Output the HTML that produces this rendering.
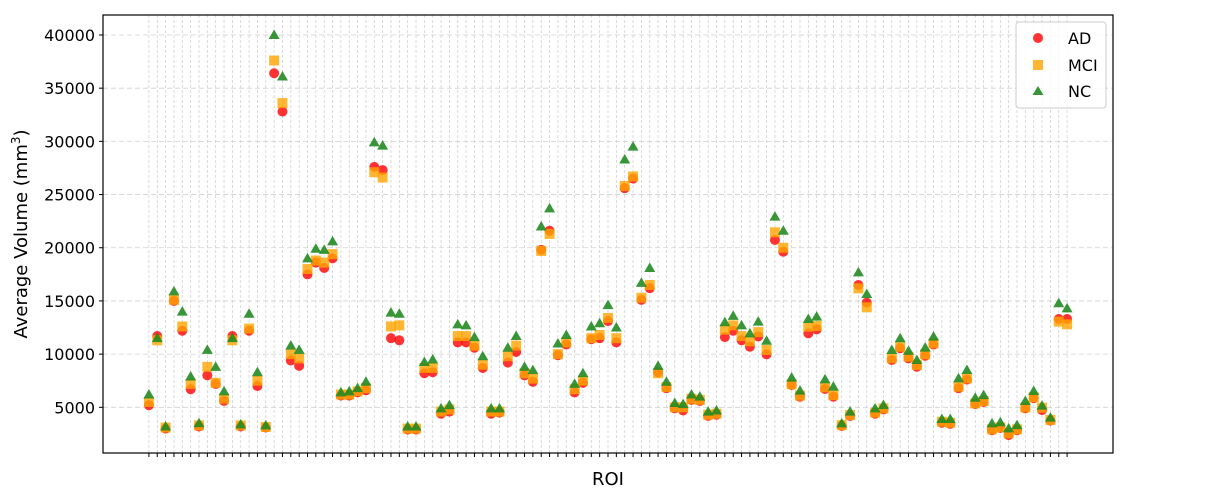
<!DOCTYPE html>
<html><head><meta charset="utf-8"><style>
html,body{margin:0;padding:0;background:#fff;}
svg{display:block;font-family:"DejaVu Sans","Liberation Sans",sans-serif;}
</style></head><body>
<svg id="chart" width="1210" height="492" viewBox="0 0 1210 492" xmlns="http://www.w3.org/2000/svg">
<g id="grid"></g>
<g id="marks"></g>
<rect x="103" y="15" width="1010" height="438" fill="none" stroke="#000" stroke-width="1.2"/>
<g id="axes"></g>
<text transform="translate(27,234) rotate(-90)" text-anchor="middle" font-size="18">Average Volume (mm<tspan baseline-shift="super" font-size="12">3</tspan>)</text>
<text x="608" y="485" text-anchor="middle" font-size="18">ROI</text>
<g>
<rect x="1016" y="22" width="90" height="86" rx="3" fill="#fff" fill-opacity="0.85" stroke="#ccc"/>
<g><circle cx="1038" cy="38" r="5" fill="#ff0000" fill-opacity="0.8"/><text x="1068" y="44" font-size="16">AD</text></g>
<g><rect x="1033" y="60" width="10" height="10" fill="#ffa500" fill-opacity="0.8"/><text x="1068" y="71" font-size="16">MCI</text></g>
<g><polygon points="1038,86 1043.5,95 1032.5,95" fill="#228b22" fill-opacity="0.9"/><text x="1068" y="97" font-size="16">NC</text></g>
</g>
</svg>
<script>
const AD=[5200,11700,3000,15000,12200,6700,3200,8000,7200,5600,11700,3200,12200,7000,3100,36400,32800,9400,8900,17500,18600,18100,19000,6100,6100,6400,6600,27600,27300,11500,11300,2900,2900,8200,8300,4400,4600,11100,11100,10600,8700,4400,4500,9200,10200,8000,7400,19800,21600,9900,10900,6400,7300,11400,11500,13100,11100,25600,26500,15100,16200,8300,6800,4900,4700,5700,5600,4200,4300,11600,12200,11300,10700,11660,9980,20730,19630,7100,6000,11950,12330,6720,6000,3250,4200,16500,14840,4400,4800,9450,10550,9600,8820,9850,10900,3550,3450,6800,7600,5300,5500,2850,3050,2390,2850,4900,5850,4740,3750,13300,13300];
const MCI=[5500,11300,3100,15100,12600,7200,3300,8800,7300,5800,11300,3300,12400,7500,3150,37600,33600,10000,9600,18000,18800,18600,19400,6200,6200,6500,6800,27100,26600,12600,12700,3000,3000,8700,8700,4600,4800,11700,11700,10800,9000,4600,4600,9800,10800,8200,7700,19700,21300,10000,11100,6700,7500,11500,11800,13400,11500,25800,26700,15300,16500,8200,6900,5000,5000,5800,5700,4300,4400,12300,12700,11700,11200,12070,10390,21450,20000,7160,6100,12580,12640,6880,6150,3330,4280,16180,14400,4500,4900,9610,10700,9760,8980,9980,11020,3650,3550,6940,7720,5370,5590,2930,3120,2550,2930,4990,5940,4960,3810,13050,12800];
const NC=[6200,11500,3200,15900,14000,7900,3500,10400,8800,6500,11500,3400,13800,8300,3300,40000,36100,10800,10400,19000,19900,19800,20600,6400,6500,6800,7400,29900,29600,13900,13800,3200,3200,9260,9500,4900,5200,12800,12700,11600,9800,4900,4900,10600,11700,8800,8500,22000,23700,11000,11800,7200,8200,12600,12900,14600,12500,28300,29500,16700,18100,8900,7400,5400,5300,6200,6000,4600,4700,13000,13600,12700,11950,13050,11260,22920,21600,7790,6570,13300,13520,7630,6940,3490,4590,17690,15650,4900,5220,10390,11490,10300,9450,10610,11650,3900,3900,7720,8510,5900,6150,3490,3590,3020,3330,5590,6530,5160,4030,14780,14300];
const Y_TICKS=[5000,10000,15000,20000,25000,30000,35000,40000];
const Y_TICK_LABELS=["5000","10000","15000","20000","25000","30000","35000","40000"];

const NS="http://www.w3.org/2000/svg";
const L=103,R=1113,T=15,B=453;
const n=AD.length;
const xMin=-(n-1)*0.05, xMax=(n-1)*1.05;
function xs(i){return L+(i-xMin)/(xMax-xMin)*(R-L);}
function ys(v){return 460.5-v*0.010638;}
function mk(tag,attrs,parent){const e=document.createElementNS(NS,tag);for(const k in attrs)e.setAttribute(k,attrs[k]);parent.appendChild(e);return e;}
const grid=document.getElementById('grid'),marks=document.getElementById('marks'),axes=document.getElementById('axes');
for(let i=0;i<n;i++){
  const x=xs(i);
  const g=mk('line',{x1:x,x2:x,y1:T,y2:B,stroke:'#d0d0d0','stroke-width':0.8,'stroke-dasharray':'3,2'},grid);
  
  
  const t=mk('line',{x1:x,x2:x,y1:B,y2:B+4,stroke:'#000','stroke-width':1},axes);
  
  
}
Y_TICKS.forEach((v,k)=>{
  const y=ys(v);
  const g=mk('line',{x1:L,x2:R,y1:y,y2:y,stroke:'#d0d0d0','stroke-width':0.8,'stroke-dasharray':'5,3'},grid);
  
  
  const t=mk('line',{x1:L-4,x2:L,y1:y,y2:y,stroke:'#000','stroke-width':1},axes);
  
  
  const tx=mk('text',{x:L-8,y:y+6,'text-anchor':'end','font-size':16},axes);
  tx.textContent=Y_TICK_LABELS[k];
  
  
});
for(let i=0;i<n;i++){
  const x=xs(i);
  const c=mk('circle',{cx:x,cy:ys(AD[i]),r:5,fill:'#ff0000','fill-opacity':0.8},marks);
  
  
}
for(let i=0;i<n;i++){
  const x=xs(i),y=ys(MCI[i]);
  const s=mk('rect',{x:x-5,y:y-5,width:10,height:10,fill:'#ffa500','fill-opacity':0.8},marks);
  
  
}
for(let i=0;i<n;i++){
  const x=xs(i),y=ys(NC[i]);
  const p=mk('polygon',{points:`${x},${y-5.5} ${x+5.5},${y+4} ${x-5.5},${y+4}`,fill:'#228b22','fill-opacity':0.9},marks);
  
  
}
</script>
</body></html>
